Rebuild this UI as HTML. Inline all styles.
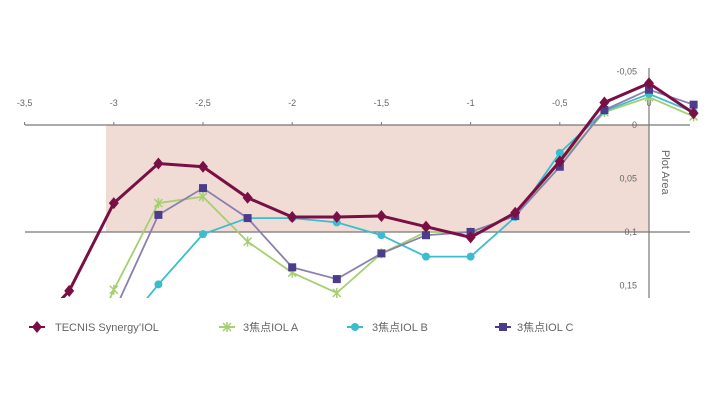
<!DOCTYPE html>
<html><head><meta charset="utf-8"><style>
body{margin:0;background:#fff;width:710px;height:400px;overflow:hidden;font-family:"Liberation Sans","Noto Sans CJK JP",sans-serif}
</style></head><body>
<svg width="710" height="400" xmlns="http://www.w3.org/2000/svg">
<defs><clipPath id="c"><rect x="0" y="40" width="710" height="258"/></clipPath></defs>
<rect x="106" y="125" width="543" height="107" fill="#f1dcd5"/>
<g id="axes"></g>
<g id="series" clip-path="url(#c)"></g>
<text x="662" y="150" transform="rotate(90 662 150)" font-size="11" fill="#666">Plot Area</text>
<g id="legend" font-size="11" fill="#666"></g>
</svg>
<script>
const xCats=[-3.5,-3.25,-3,-2.75,-2.5,-2.25,-2,-1.75,-1.5,-1.25,-1,-0.75,-0.5,-0.25,0,0.25];
const tecnis=[0.2,0.155,0.073,0.036,0.039,0.068,0.086,0.086,0.085,0.095,0.105,0.082,0.034,-0.021,-0.039,-0.011];
const iolA=[null,0.25,0.154,0.073,0.067,0.109,0.138,0.157,0.12,0.1,0.1,0.085,0.035,-0.012,-0.026,-0.008];
const iolB=[null,null,0.2,0.149,0.102,0.087,0.087,0.091,0.103,0.123,0.123,0.086,0.026,-0.013,-0.029,-0.012];
const iolC=[null,null,0.175,0.084,0.059,0.087,0.133,0.144,0.12,0.103,0.1,0.085,0.039,-0.014,-0.033,-0.019];
const xTicks=[-3.5,-3,-2.5,-2,-1.5,-1,-0.5,0];
const yTicks=[-0.05,0,0.05,0.1,0.15];
const NS="http://www.w3.org/2000/svg";
const X=v=>649+v*178.4, Y=v=>125+v*1070;
function mk(t,a,p){const e=document.createElementNS(NS,t);for(const k in a)e.setAttribute(k,a[k]);p.appendChild(e);return e;}
const fmt=v=>String(v).replace('.',',');
const ax=document.getElementById('axes');
let l=mk('line',{x1:25,x2:690,y1:125,y2:125,stroke:'#777','stroke-width':1.2},ax);


l=mk('line',{x1:25,x2:690,y1:232,y2:232,stroke:'#777','stroke-width':1.2},ax);


l=mk('line',{x1:649,x2:649,y1:68,y2:298,stroke:'#777','stroke-width':1.2},ax);


xTicks.forEach(v=>{const t=mk('text',{x:X(v),y:106,'text-anchor':'middle','font-size':9,fill:'#666'},ax);t.textContent=fmt(v);


mk('line',{x1:X(v),x2:X(v),y1:122,y2:125,stroke:'#777'},ax);});
yTicks.forEach(v=>{const t=mk('text',{x:637,y:Y(v)+3,'text-anchor':'end','font-size':9,fill:'#666'},ax);t.textContent=fmt(v);

});
const sg=document.getElementById('series');
function marker(type,x,y,col,g){
 if(type==='d')return mk('path',{d:`M${x} ${y-6}L${x+5} ${y}L${x} ${y+6}L${x-5} ${y}Z`,fill:col},g);
 if(type==='c')return mk('circle',{cx:x,cy:y,r:4,fill:col},g);
 if(type==='s')return mk('rect',{x:x-4,y:y-4,width:8,height:8,fill:col},g);
 const p=mk('path',{d:`M${x-4} ${y-4}L${x+4} ${y+4}M${x+4} ${y-4}L${x-4} ${y+4}M${x} ${y-5}V${y+5}`,stroke:col,'stroke-width':1.5},g);return p;
}
const series=[[iolA,'#a6cf6f','x','series-iol-a',1.8],[iolB,'#3bbdd0','c','series-iol-b',1.8],[iolC,'#8a80b0','s','series-iol-c',1.8],[tecnis,'#7a0f45','d','series-tecnis',3]];
const mcol={'series-iol-c':'#4b3c8c'};
series.forEach(([arr,col,m,name,w])=>{
 const g=mk('g',{},sg);
 
 
 let d='';arr.forEach((v,i)=>{if(v===null)return;d+=(d?'L':'M')+X(xCats[i])+' '+Y(v);});
 mk('path',{d,fill:'none',stroke:col,'stroke-width':w},g);
 arr.forEach((v,i)=>{if(v===null)return;const e=marker(m,X(xCats[i]),Y(v),mcol[name]||col,g);
 
 });
});
const lg=document.getElementById('legend');
[['TECNIS Synergy\u2019IOL','#7a0f45','d',37,55],['3焦点IOL A','#a6cf6f','x',227,243],['3焦点IOL B','#3bbdd0','c',355,372],['3焦点IOL C','#4b3c8c','s',503,517]].forEach(([lab,col,m,mx,tx])=>{
 const g=mk('g',{},lg);
 
 
 mk('line',{x1:mx-8,x2:mx+8,y1:327,y2:327,stroke:col,'stroke-width':2},g);
 marker(m,mx,327,col,g);
 const t=mk('text',{x:tx,y:331,'font-size':11,fill:'#666'},g);t.textContent=lab;
});
</script>
</body></html>
